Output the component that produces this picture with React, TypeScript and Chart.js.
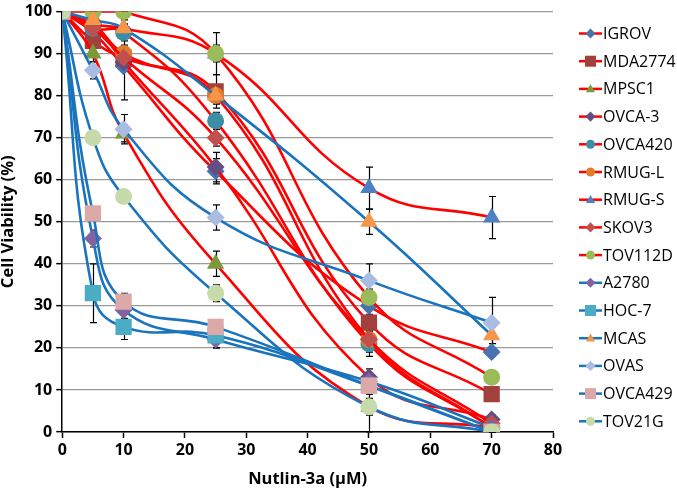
import React, { useEffect, useRef } from 'react';
import { Chart, registerables } from 'chart.js';

Chart.register(...registerables);

const doses = [0, 5, 10, 25, 50, 70];
const xTicksMax = 80;
const yTicksMax = 100;

const seriesNames = ['IGROV', 'MDA2774', 'MPSC1', 'OVCA-3', 'OVCA420', 'RMUG-L', 'RMUG-S', 'SKOV3', 'TOV112D', 'A2780', 'HOC-7', 'MCAS', 'OVAS', 'OVCA429', 'TOV21G'];

const IGROV = [100, 95, 87, 62, 30, 19];
const MDA2774 = [100, 93, 89, 81, 26, 9];
const MPSC1 = [100, 90, 71, 40, 6, 1];
const OVCA3 = [100, 97, 88, 63, 13, 3];
const OVCA420 = [100, 96, 95, 74, 21, 1];
const RMUGL = [100, 97, 90, 80, 22, 1];
const RMUGS = [100, 97, 96, 90, 58, 51];
const SKOV3 = [100, 96, 89, 70, 22, 2];
const TOV112D = [100, 100, 100, 90, 32, 13];
const A2780 = [100, 46, 29, 22, 12, 1];
const HOC7 = [100, 33, 25, 23, 11, 0];
const MCAS = [100, 98, 96, 80, 50, 23];
const OVAS = [100, 86, 72, 51, 36, 26];
const OVCA429 = [100, 52, 31, 25, 11, 0];
const TOV21G = [100, 70, 56, 33, 6, 0];

const IGROV_err = [0, 1, 8, 3, 2, 1];
const MDA2774_err = [0, 1, 2, 4, 4, 1];
const MPSC1_err = [0, 2, 2, 3, 6, 1];
const OVCA3_err = [0, 1, 2, 3.5, 2, 1];
const OVCA420_err = [0, 1, 2, 2, 3, 1];
const RMUGL_err = [0, 1, 2, 2, 3, 1];
const RMUGS_err = [0, 1, 1, 2, 5, 5];
const SKOV3_err = [0, 1, 2, 2, 2, 1];
const TOV112D_err = [0, 1, 1, 5, 2, 1];
const A2780_err = [0, 2, 2, 2, 2, 1];
const HOC7_err = [0, 7, 3, 3, 2, 1];
const MCAS_err = [0, 1, 2, 2, 3, 2];
const OVAS_err = [0, 2, 3.5, 3, 4, 6];
const OVCA429_err = [0, 1, 2, 1, 2, 1];
const TOV21G_err = [0, 1, 1, 2, 2, 1];

const seriesValues = [IGROV, MDA2774, MPSC1, OVCA3, OVCA420, RMUGL, RMUGS, SKOV3, TOV112D, A2780, HOC7, MCAS, OVAS, OVCA429, TOV21G];
const seriesErrors = [IGROV_err, MDA2774_err, MPSC1_err, OVCA3_err, OVCA420_err, RMUGL_err, RMUGS_err, SKOV3_err, TOV112D_err, A2780_err, HOC7_err, MCAS_err, OVAS_err, OVCA429_err, TOV21G_err];

const markerColors = ['#4A72AE', '#A2403D', '#7A9A3C', '#654C82', '#3A8FA6', '#E07A2C', '#4F7FC4', '#C0504D', '#9BBB59', '#8064A2', '#4BACC6', '#F79646', '#A9BCE2', '#DDA9A8', '#C6DAAA'];
const markerShapes = ['rectRot', 'rect', 'triangle', 'rectRot', 'circle', 'circle', 'triangle', 'rectRot', 'circle', 'rectRot', 'rect', 'triangle', 'rectRot', 'rect', 'circle'];
const RED = '#FF0000';
const BLUE = '#1A74BD';
const lineColors = seriesNames.map((_, i) => (i < 9 ? RED : BLUE));

const FONT = "'Open Sans', 'Noto Sans', sans-serif";

function markerRadius(shape: string) {
  if (shape === 'rect') return 11.5;
  if (shape === 'triangle') return 10;
  if (shape === 'rectRot') return 9;
  return 8.5;
}

function drawMarker(ctx: CanvasRenderingContext2D, shape: string, x: number, y: number, s: number, color: string) {
  ctx.save();
  ctx.fillStyle = color;
  ctx.beginPath();
  if (shape === 'circle') {
    ctx.arc(x, y, s, 0, Math.PI * 2);
  } else if (shape === 'rect') {
    ctx.rect(x - s, y - s, 2 * s, 2 * s);
  } else if (shape === 'rectRot') {
    ctx.moveTo(x, y - s * 1.2);
    ctx.lineTo(x + s * 1.2, y);
    ctx.lineTo(x, y + s * 1.2);
    ctx.lineTo(x - s * 1.2, y);
    ctx.closePath();
  } else if (shape === 'triangle') {
    ctx.moveTo(x, y - s * 1.1);
    ctx.lineTo(x + s * 1.1, y + s * 0.8);
    ctx.lineTo(x - s * 1.1, y + s * 0.8);
    ctx.closePath();
  }
  ctx.fill();
  ctx.restore();
}

const errorBarPlugin = {
  id: 'errorBars',
  beforeDatasetsDraw(chart: any) {
    const ctx = chart.ctx;
    const xs = chart.scales.x;
    const ys = chart.scales.y;
    ctx.save();
    ctx.strokeStyle = '#000';
    ctx.lineWidth = 1.2;
    seriesValues.forEach((vals, si) => {
      const errs = seriesErrors[si];
      vals.forEach((v, i) => {
        const e = errs[i];
        if (!e) return;
        const px = Math.round(xs.getPixelForValue(doses[i])) + 0.5;
        const top = ys.getPixelForValue(Math.min(v + e, yTicksMax));
        const bot = ys.getPixelForValue(Math.max(v - e, 0));
        ctx.beginPath();
        ctx.moveTo(px, top);
        ctx.lineTo(px, bot);
        ctx.moveTo(px - 3.5, top);
        ctx.lineTo(px + 3.5, top);
        ctx.moveTo(px - 3.5, bot);
        ctx.lineTo(px + 3.5, bot);
        ctx.stroke();
      });
    });
    ctx.restore();
  },
};

const legendPlugin = {
  id: 'customLegend',
  afterDraw(chart: any) {
    const ctx = chart.ctx;
    const x0 = 579;
    const x1 = 602;
    const yStart = 33.5;
    const step = 27.7;
    ctx.save();
    ctx.font = `16px ${FONT}`;
    ctx.textBaseline = 'middle';
    ctx.textAlign = 'left';
    seriesNames.forEach((name, i) => {
      const y = yStart + i * step;
      ctx.strokeStyle = lineColors[i];
      ctx.lineWidth = 2.5;
      ctx.beginPath();
      ctx.moveTo(x0, y);
      ctx.lineTo(x1, y);
      ctx.stroke();
      const shape = markerShapes[i];
      const s = shape === 'rect' ? 5.5 : shape === 'circle' ? 4.5 : 4.2;
      drawMarker(ctx, shape, (x0 + x1) / 2, y, s, markerColors[i]);
      ctx.fillStyle = '#000';
      ctx.fillText(name, x1 + 1, y + 1);
    });
    ctx.restore();
  },
};

export default function App() {
  const canvasRef = useRef<HTMLCanvasElement | null>(null);

  useEffect(() => {
    document.body.style.margin = '0';
    const canvas = canvasRef.current;
    if (!canvas) return;
    const datasets = seriesNames.map((name, i) => ({
      label: name,
      data: doses.map((d, j) => ({ x: d, y: seriesValues[i][j] })),
      borderColor: lineColors[i],
      borderWidth: 2.6,
      backgroundColor: markerColors[i],
      pointBackgroundColor: markerColors[i],
      pointBorderColor: markerColors[i],
      pointBorderWidth: 0,
      pointStyle: markerShapes[i],
      pointRadius: markerRadius(markerShapes[i]),
      tension: 0.45,
      fill: false,
      order: seriesNames.length - i,
    }));
    const chart = new Chart(canvas, {
      type: 'line',
      data: { datasets },
      plugins: [errorBarPlugin, legendPlugin],
      options: {
        animation: false,
        responsive: true,
        maintainAspectRatio: false,
        layout: { padding: { left: -2, right: 124, top: 0, bottom: 9 } },
        plugins: {
          legend: { display: false },
          tooltip: { enabled: false },
        },
        scales: {
          x: {
            type: 'linear',
            min: 0,
            max: xTicksMax,
            ticks: { stepSize: 10, color: '#000', font: { family: FONT, size: 16, weight: 'bold' }, padding: 3 },
            grid: { drawOnChartArea: false, tickLength: 6, tickColor: '#000', tickWidth: 1.5 },
            border: { color: '#000', width: 1.5 },
            title: { display: true, text: 'Nutlin-3a (μM)', color: '#000', font: { family: FONT, size: 16.5, weight: 'bold' }, padding: { top: 6, bottom: 0 } },
          },
          y: {
            min: 0,
            max: yTicksMax,
            ticks: { stepSize: 10, color: '#000', font: { family: FONT, size: 16, weight: 'bold', lineHeight: 0.9 }, padding: 4 },
            grid: { color: '#9A9A9A', lineWidth: 1.3, tickLength: 6, tickColor: '#000', tickWidth: 1.5 },
            border: { color: '#000', width: 1.5 },
            title: { display: true, text: 'Cell Viability (%)', color: '#000', font: { family: FONT, size: 16.5, weight: 'bold' }, padding: { top: 0, bottom: 3 } },
          },
        },
      },
    } as any);
    return () => chart.destroy();
  }, []);

  return (
    <div style={{ width: 677, height: 498, position: 'relative' }}>
      <canvas ref={canvasRef} />
    </div>
  );
}
